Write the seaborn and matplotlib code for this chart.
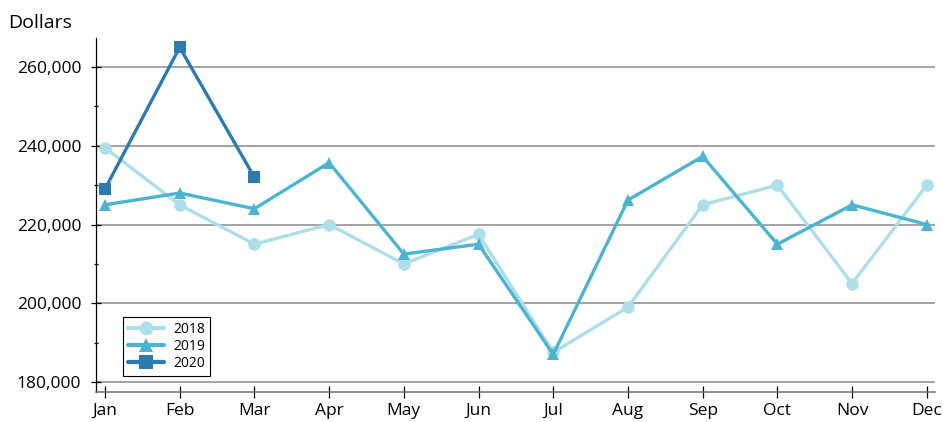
import numpy as np
import pandas as pd
import matplotlib
matplotlib.use("Agg")
import matplotlib.pyplot as plt
import seaborn as sns
from matplotlib.ticker import FuncFormatter, MultipleLocator

# ---- data ----
months = ["Jan", "Feb", "Mar", "Apr", "May", "Jun",
          "Jul", "Aug", "Sep", "Oct", "Nov", "Dec"]
sales_2018 = [239500, 225000, 215000, 220000, 210000, 217500,
              187500, 199000, 225000, 230000, 205000, 230000]
sales_2019 = [225000, 228000, 224000, 235700, 212500, 215000,
              187000, 226200, 237300, 215000, 225000, 220000]
sales_2020 = [229000, 265000, 232000]

years = ["2018", "2019", "2020"]
colors = {"2018": "#acdfe7", "2019": "#4bb5d1", "2020": "#2b7bb0"}
markers = {"2018": "o", "2019": "^", "2020": "s"}

# long-form table for seaborn
rows = []
for yr, vals in zip(years, [sales_2018, sales_2019, sales_2020]):
    for i, v in enumerate(vals):
        rows.append({"month": i, "dollars": v, "year": yr})
df = pd.DataFrame(rows)

sns.set_style("ticks")
plt.rcParams["font.family"] = ["Open Sans", "DejaVu Sans"]
plt.rcParams["text.color"] = "black"
plt.rcParams["xtick.labelcolor"] = "black"
plt.rcParams["ytick.labelcolor"] = "black"

fig = plt.figure(figsize=(9.43, 4.22), dpi=100)
ax = fig.add_axes([96 / 943, 30 / 422, 839 / 943, 354 / 422])

sns.lineplot(data=df, x="month", y="dollars", hue="year", style="year",
             palette=colors, markers=markers, dashes=False,
             linewidth=2.4, markersize=9, markeredgewidth=0,
             ax=ax, legend=False)

# gridlines at major y ticks
ax.set_ylim(177460, 267370)
ax.set_xlim(-0.12, 11.11)
ax.yaxis.set_major_locator(MultipleLocator(20000))
ax.yaxis.set_minor_locator(MultipleLocator(10000))
ax.yaxis.set_major_formatter(FuncFormatter(lambda v, p: f"{int(v):,}"))
ax.set_yticks([180000, 200000, 220000, 240000, 260000])
ax.grid(axis="y", which="major", color="#8a8a8a", linewidth=1.1)
ax.set_axisbelow(True)

ax.set_xticks(range(12))
ax.set_xticklabels(months)
ax.set_xlabel("")
ax.set_ylabel("")

ax.tick_params(axis="y", which="major", direction="inout", length=7,
               width=0.9, color="black", labelsize=12.5, pad=7)
ax.tick_params(axis="y", which="minor", direction="inout", length=3.5,
               width=0.9, color="black")
ax.tick_params(axis="x", direction="inout", length=8, width=0.9,
               color="black", labelsize=12.5, pad=4)

for side in ["top", "right"]:
    ax.spines[side].set_visible(False)
ax.spines["left"].set_color("black")
ax.spines["left"].set_linewidth(0.9)
ax.spines["bottom"].set_color("#707070")
ax.spines["bottom"].set_linewidth(1.1)

# legend
handles = [plt.Line2D([], [], color=colors[y], marker=markers[y],
                      linewidth=3, markersize=10, markeredgewidth=0)
           for y in years]
leg = ax.legend(handles, years, loc="lower left",
                bbox_to_anchor=(0.032, 0.046), borderaxespad=0,
                fontsize=10, fancybox=False, framealpha=1,
                edgecolor="black", handlelength=2.6, handletextpad=0.7,
                labelspacing=0.15, borderpad=0.35)
leg.get_frame().set_linewidth(0.8)

fig.text(8 / 943, 1 - 28 / 422, "Dollars", fontsize=14, va="baseline")

fig.savefig("out.png", dpi=100)
